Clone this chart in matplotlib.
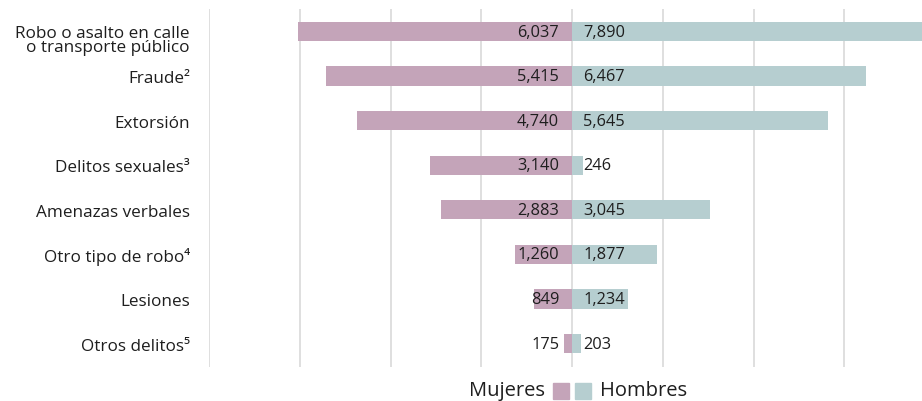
import matplotlib
matplotlib.use("Agg")
import matplotlib.pyplot as plt
from matplotlib.patches import Rectangle
import matplotlib.transforms as mtransforms
import numpy as np

categories = ["Robo o asalto en calle\no transporte público", "Fraude²", "Extorsión",
              "Delitos sexuales³", "Amenazas verbales", "Otro tipo de robo⁴",
              "Lesiones", "Otros delitos⁵"]
mujeres = [6037, 5415, 4740, 3140, 2883, 1260, 849, 175]
hombres = [7890, 6467, 5645, 246, 3045, 1877, 1234, 203]
grid_ticks = [-8000, -6000, -4000, -2000, 0, 2000, 4000, 6000]

FONT = ["Open Sans", "DejaVu Sans"]
plt.rcParams["font.family"] = FONT
PINK = "#C4A4B9"
TEAL = "#B6CED0"
TXT = "#1E1E1E"
FS = 11.8
FS_CAT = 12.3

fig = plt.figure(figsize=(9.22, 4.02), dpi=100)
ax = fig.add_axes([209/922, 1-368/402, 1-209/922, 358/402])

y = np.arange(len(categories))
ax.barh(y, [-m for m in mujeres], height=0.43, color=PINK, zorder=2)
ax.barh(y, hombres, height=0.43, color=TEAL, zorder=2)

for i, (m, h) in enumerate(zip(mujeres, hombres)):
    ax.annotate(f"{m:,}", xy=(0, i), xytext=(-9.3, 0), textcoords="offset points",
                ha="right", va="center", fontsize=FS, color=TXT, zorder=3)
    ax.annotate(f"{h:,}", xy=(0, i), xytext=(7.9, 0), textcoords="offset points",
                ha="left", va="center", fontsize=FS, color=TXT, zorder=3)

ax.set_xlim(-8000, 7711)
ax.set_ylim(7.527, -0.505)
ax.set_xticks(grid_ticks)
ax.set_xticklabels([])
ax.set_yticks(y)
ax.set_yticklabels(categories, fontsize=FS_CAT, color=TXT, linespacing=0.9)
ax.tick_params(axis="both", length=0)
ax.tick_params(axis="y", pad=13.7)
ax.grid(axis="x", color="#D9D9D9", linewidth=1.2, zorder=0)
ax.set_axisbelow(True)
for s in ax.spines.values():
    s.set_visible(False)

# shift the two-line label down a little, as in the reference
first = ax.get_yticklabels()[0]
first.set_transform(first.get_transform() +
                    mtransforms.ScaledTranslation(0, -7/100, fig.dpi_scale_trans))

# legend
fig.text(545/922, 1-391/402, "Mujeres", ha="right", va="center", fontsize=14.5, color=TXT)
fig.text(600/922, 1-391/402, "Hombres", ha="left", va="center", fontsize=14.5, color=TXT)
fig.patches.append(Rectangle((553/922, 1-400/402), 16/922, 16/402, transform=fig.transFigure,
                             color=PINK, figure=fig))
fig.patches.append(Rectangle((575/922, 1-400/402), 16/922, 16/402, transform=fig.transFigure,
                             color=TEAL, figure=fig))

fig.savefig("out.png", dpi=100)
